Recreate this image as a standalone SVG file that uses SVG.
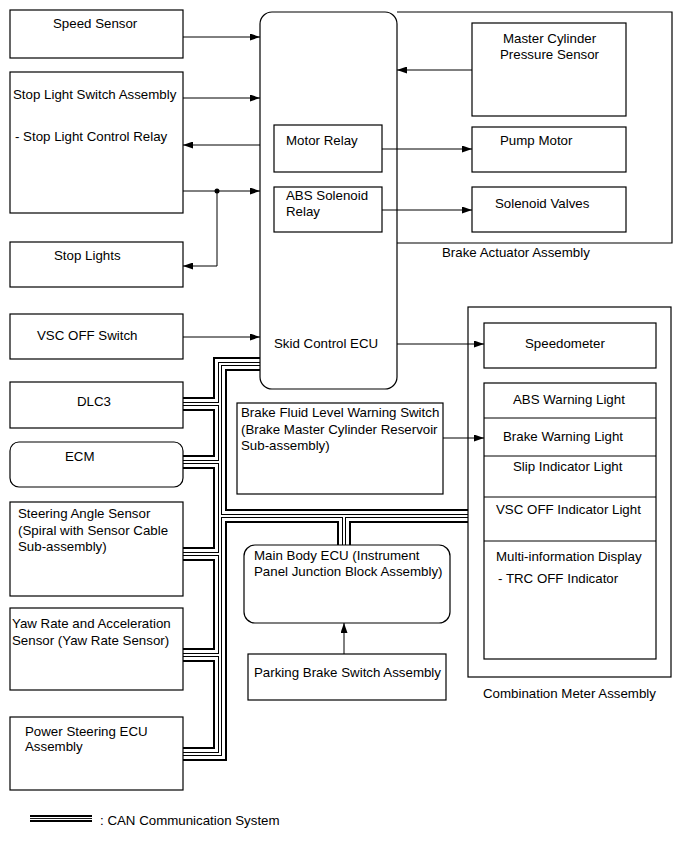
<svg xmlns="http://www.w3.org/2000/svg" xmlns:xlink="http://www.w3.org/1999/xlink" width="690" height="853" viewBox="0 0 690 853">
<style>
.box{fill:#fff;stroke:#000;stroke-width:1.2}
.frame{fill:none;stroke:#000;stroke-width:1.2}
.t{font-family:"Liberation Sans",Arial,sans-serif;font-size:13.3px;fill:#000}
.ln{fill:none;stroke:#000;stroke-width:1}
.bus{fill:none;stroke-linecap:butt;stroke-linejoin:miter}
</style>
<defs>
<marker id="ah" viewBox="0 0 10 7" refX="10" refY="3.5" markerWidth="10" markerHeight="7" markerUnits="userSpaceOnUse" orient="auto">
<path d="M0,0 L10,3.5 L0,7 z" fill="#000"/>
</marker>
<path id="busPath" d="M260,364 H220 V754 H183 M183,404 H220 M183,462 H220 M183,554 H220 M183,655 H220 M220,516 H468 M344,516 V545"/>
</defs>
<rect width="690" height="853" fill="#fff"/>

<g id="can-bus">
<use xlink:href="#busPath" class="bus" stroke="#000" stroke-width="14"/>
<use xlink:href="#busPath" class="bus" stroke="#fff" stroke-width="10"/>
<use xlink:href="#busPath" class="bus" stroke="#000" stroke-width="4"/>
<use xlink:href="#busPath" class="bus" stroke="#fff" stroke-width="2"/>
</g>

<g id="brake-actuator-assembly">
<path class="frame" d="M397,12 H672 V243 H397"/>
<text class="t" x="442" y="257">Brake Actuator Assembly</text>
</g>

<g id="combination-meter-assembly">
<rect class="box" x="468" y="307" width="203" height="370"/>
<text class="t" x="483" y="698">Combination Meter Assembly</text>
</g>

<g id="speed-sensor">
<rect class="box" x="10" y="10" width="173" height="48"/>
<text class="t" x="53" y="28">Speed Sensor</text>
</g>

<g id="stop-light-switch">
<rect class="box" x="10" y="72" width="173" height="141"/>
<text class="t" x="13" y="99">Stop Light Switch Assembly</text>
<text class="t" x="15" y="141">- Stop Light Control Relay</text>
</g>

<g id="stop-lights">
<rect class="box" x="10" y="242" width="173" height="45"/>
<text class="t" x="54" y="259.5">Stop Lights</text>
</g>

<g id="vsc-off-switch">
<rect class="box" x="10" y="314" width="173" height="45"/>
<text class="t" x="37" y="339.5">VSC OFF Switch</text>
</g>

<g id="dlc3">
<rect class="box" x="10" y="382" width="173" height="46"/>
<text class="t" x="77" y="406">DLC3</text>
</g>

<g id="ecm">
<rect class="box" x="10" y="442" width="173" height="45" rx="9"/>
<text class="t" x="65" y="461">ECM</text>
</g>

<g id="steering-angle-sensor">
<rect class="box" x="10" y="502" width="173" height="94"/>
<text class="t" x="18" y="517.5">Steering Angle Sensor</text>
<text class="t" x="18" y="534.5">(Spiral with Sensor Cable</text>
<text class="t" x="18" y="551">Sub-assembly)</text>
</g>

<g id="yaw-rate-sensor">
<rect class="box" x="10" y="608" width="173" height="82"/>
<text class="t" x="12" y="628">Yaw Rate and Acceleration</text>
<text class="t" x="12" y="644.5">Sensor (Yaw Rate Sensor)</text>
</g>

<g id="power-steering-ecu">
<rect class="box" x="10" y="717" width="173" height="73"/>
<text class="t" x="25" y="736">Power Steering ECU</text>
<text class="t" x="25" y="751">Assembly</text>
</g>

<g id="skid-control-ecu">
<rect class="box" x="260" y="12" width="137" height="377" rx="12"/>
<text class="t" x="274" y="347.5">Skid Control ECU</text>
</g>

<g id="motor-relay">
<rect class="box" x="274" y="125" width="108" height="47"/>
<text class="t" x="286" y="145">Motor Relay</text>
</g>

<g id="abs-solenoid-relay">
<rect class="box" x="274" y="187" width="108" height="45"/>
<text class="t" x="286" y="200">ABS Solenoid</text>
<text class="t" x="286" y="216">Relay</text>
</g>

<g id="master-cylinder-pressure-sensor">
<rect class="box" x="472" y="23" width="154" height="93"/>
<text class="t" x="503" y="43">Master Cylinder</text>
<text class="t" x="500" y="59">Pressure Sensor</text>
</g>

<g id="pump-motor">
<rect class="box" x="472" y="127" width="154" height="45"/>
<text class="t" x="500" y="144.5">Pump Motor</text>
</g>

<g id="solenoid-valves">
<rect class="box" x="472" y="187" width="154" height="45"/>
<text class="t" x="495" y="208">Solenoid Valves</text>
</g>

<g id="brake-fluid-level-switch">
<rect class="box" x="237" y="403" width="206" height="91"/>
<text class="t" x="241" y="417">Brake Fluid Level Warning Switch</text>
<text class="t" x="241" y="433.5">(Brake Master Cylinder Reservoir</text>
<text class="t" x="241" y="449.5">Sub-assembly)</text>
</g>

<g id="main-body-ecu">
<rect class="box" x="244" y="545" width="206" height="78" rx="11"/>
<text class="t" x="254" y="559.5">Main Body ECU (Instrument</text>
<text class="t" x="254" y="576">Panel Junction Block Assembly)</text>
</g>

<g id="parking-brake-switch">
<rect class="box" x="248" y="654" width="198" height="46"/>
<text class="t" x="254" y="677">Parking Brake Switch Assembly</text>
</g>

<g id="speedometer">
<rect class="box" x="484" y="323" width="172" height="45"/>
<text class="t" x="525" y="348">Speedometer</text>
</g>

<g id="indicator-lights">
<rect class="box" x="484" y="383" width="172" height="276"/>
<path class="ln" d="M484,418 H656 M484,456 H656 M484,497 H656 M484,541 H656"/>
<text class="t" x="513" y="403.5">ABS Warning Light</text>
<text class="t" x="503" y="441">Brake Warning Light</text>
<text class="t" x="513" y="470.5">Slip Indicator Light</text>
<text class="t" x="496" y="513.5">VSC OFF Indicator Light</text>
<text class="t" x="496" y="561">Multi-information Display</text>
<text class="t" x="498" y="583">- TRC OFF Indicator</text>
</g>

<g id="connectors">
<path class="ln" d="M183,37 H260" marker-end="url(#ah)"/>
<path class="ln" d="M183,98 H260" marker-end="url(#ah)"/>
<path class="ln" d="M260,145 H183" marker-end="url(#ah)"/>
<path class="ln" d="M183,191 H260" marker-end="url(#ah)"/>
<path class="ln" d="M217,191 V266 H183" marker-end="url(#ah)"/>
<circle cx="217" cy="191" r="2.5" fill="#000"/>
<path class="ln" d="M183,337 H260" marker-end="url(#ah)"/>
<path class="ln" d="M472,70 H397" marker-end="url(#ah)"/>
<path class="ln" d="M382,149 H472" marker-end="url(#ah)"/>
<path class="ln" d="M382,210 H472" marker-end="url(#ah)"/>
<path class="ln" d="M397,344 H484" marker-end="url(#ah)"/>
<path class="ln" d="M443,438 H484" marker-end="url(#ah)"/>
<path class="ln" d="M344,654 V623" marker-end="url(#ah)"/>
</g>

<g id="legend">
<path d="M30,816 H92 M30,821 H92" stroke="#000" stroke-width="1.8" fill="none"/>
<path d="M30,818.5 H92" stroke="#000" stroke-width="0.9" fill="none"/>
<text class="t" x="100" y="825">: CAN Communication System</text>
</g>
</svg>
